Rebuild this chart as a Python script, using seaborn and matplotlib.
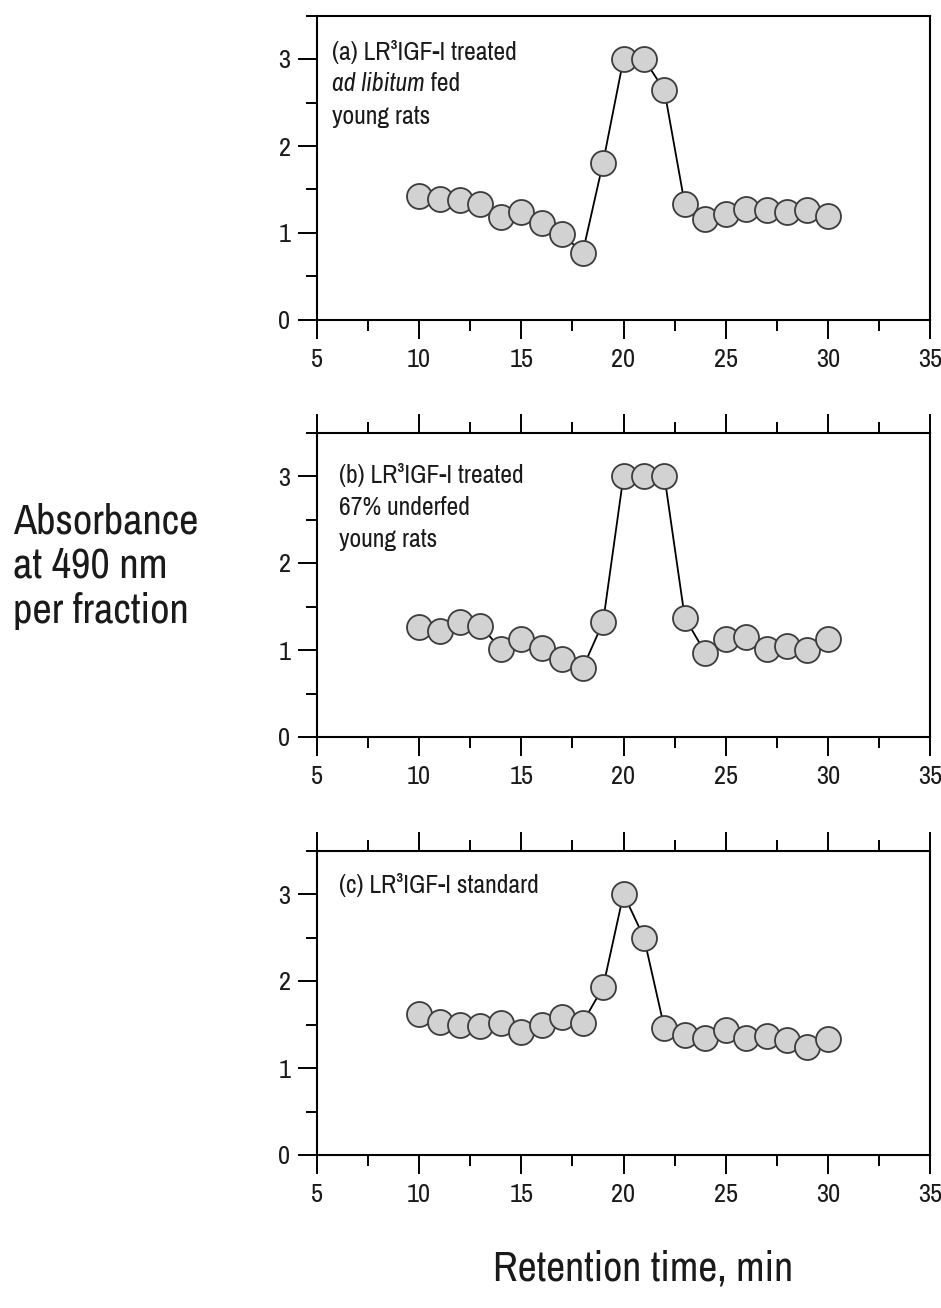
import matplotlib
matplotlib.use("Agg")
import matplotlib.pyplot as plt
import seaborn as sns
import pandas as pd
from matplotlib.ticker import MultipleLocator, FixedLocator

# ---- data ----
fractions = list(range(10, 31))
abs_a = [1.43, 1.39, 1.38, 1.33, 1.18, 1.24, 1.12, 0.99, 0.77, 1.81, 3.0, 3.0, 2.64,
         1.33, 1.16, 1.22, 1.28, 1.26, 1.24, 1.26, 1.20]
abs_b = [1.26, 1.22, 1.32, 1.28, 1.01, 1.13, 1.02, 0.90, 0.79, 1.32, 3.0, 3.0, 3.0,
         1.37, 0.97, 1.13, 1.15, 1.01, 1.05, 1.00, 1.13]
abs_c = [1.62, 1.53, 1.49, 1.48, 1.52, 1.41, 1.49, 1.59, 1.52, 1.93, 3.0, 2.50, 1.46,
         1.38, 1.34, 1.44, 1.35, 1.37, 1.32, 1.24, 1.33]
x_ticks = [5, 10, 15, 20, 25, 30, 35]
y_ticks = [0, 1, 2, 3]
panel_titles = [
    ["(a) LR\u00b3IGF-I treated", "ad libitum", " fed", "young rats"],
    ["(b) LR\u00b3IGF-I treated", "67% underfed", "young rats"],
    ["(c) LR\u00b3IGF-I standard"],
]

sns.set_style("ticks")
plt.rcParams["font.family"] = ["Archivo Narrow", "Liberation Sans", "DejaVu Sans"]
plt.rcParams["text.color"] = "#1a1a1a"
plt.rcParams["xtick.labelcolor"] = "#1a1a1a"
plt.rcParams["ytick.labelcolor"] = "#1a1a1a"

W, H = 941, 1308
fig = plt.figure(figsize=(W / 100, H / 100), dpi=100)

left = 317 / W
width = 613 / W
height = 304.5 / H
bottoms_px = [320, 737, 1155]
series = [abs_a, abs_b, abs_c]

text_fs = 18.5
for i, (bpx, vals) in enumerate(zip(bottoms_px, series)):
    ax = fig.add_axes([left, 1 - bpx / H, width, height])
    df = pd.DataFrame({"t": fractions, "a": vals})
    sns.lineplot(data=df, x="t", y="a", ax=ax, color="black", linewidth=1.3,
                 marker="o", markersize=18, markerfacecolor="#d2d2d2",
                 markeredgecolor="#3c3c3c", markeredgewidth=1.3)
    ax.set_xlim(5, 35)
    ax.set_ylim(0, 3.5)
    ax.xaxis.set_major_locator(FixedLocator(x_ticks))
    ax.yaxis.set_major_locator(FixedLocator(y_ticks))
    ax.xaxis.set_minor_locator(MultipleLocator(2.5))
    ax.yaxis.set_minor_locator(MultipleLocator(0.5))
    ax.set_xlabel("")
    ax.set_ylabel("")
    for s in ax.spines.values():
        s.set_visible(True)
        s.set_linewidth(1.5)
        s.set_color("black")
    top = i > 0
    ax.tick_params(axis="x", which="major", direction="out", length=14, width=1.4,
                   labelsize=19, pad=6, top=top, bottom=True, color="black")
    ax.tick_params(axis="x", which="minor", direction="out", length=8, width=1.4,
                   top=top, bottom=True, color="black")
    ax.tick_params(axis="y", which="major", direction="out", length=14, width=1.4,
                   labelsize=19, pad=5, right=False, color="black")
    ax.tick_params(axis="y", which="minor", direction="out", length=8, width=1.4,
                   right=False, color="black")
    ax.grid(False)

    if i == 0:
        ax.text(0.025, 0.880, panel_titles[0][0], transform=ax.transAxes,
                fontsize=text_fs, va="center", ha="left")
        t1 = ax.text(0.025, 0.778, panel_titles[0][1], transform=ax.transAxes,
                     fontsize=text_fs, va="center", ha="left", style="italic")
        ax.annotate(panel_titles[0][2], xy=(1, 0.5), xycoords=t1, va="center",
                    ha="left", fontsize=text_fs)
        ax.text(0.025, 0.667, panel_titles[0][3], transform=ax.transAxes,
                fontsize=text_fs, va="center", ha="left")
    elif i == 1:
        for txt, yy in zip(panel_titles[1], [0.859, 0.753, 0.648]):
            ax.text(0.036, yy, txt, transform=ax.transAxes,
                    fontsize=text_fs, va="center", ha="left")
    else:
        ax.text(0.036, 0.888, panel_titles[2][0], transform=ax.transAxes,
                fontsize=text_fs, va="center", ha="left")

fig.text(13 / W, 1 - 566 / H, "Absorbance\nat 490 nm\nper fraction", ha="left",
         va="center", fontsize=30.5, linespacing=1.22)
fig.text(643 / W, 1 - 1268 / H, "Retention time, min", ha="center", va="center",
         fontsize=30)

fig.savefig("out.png", dpi=100)
